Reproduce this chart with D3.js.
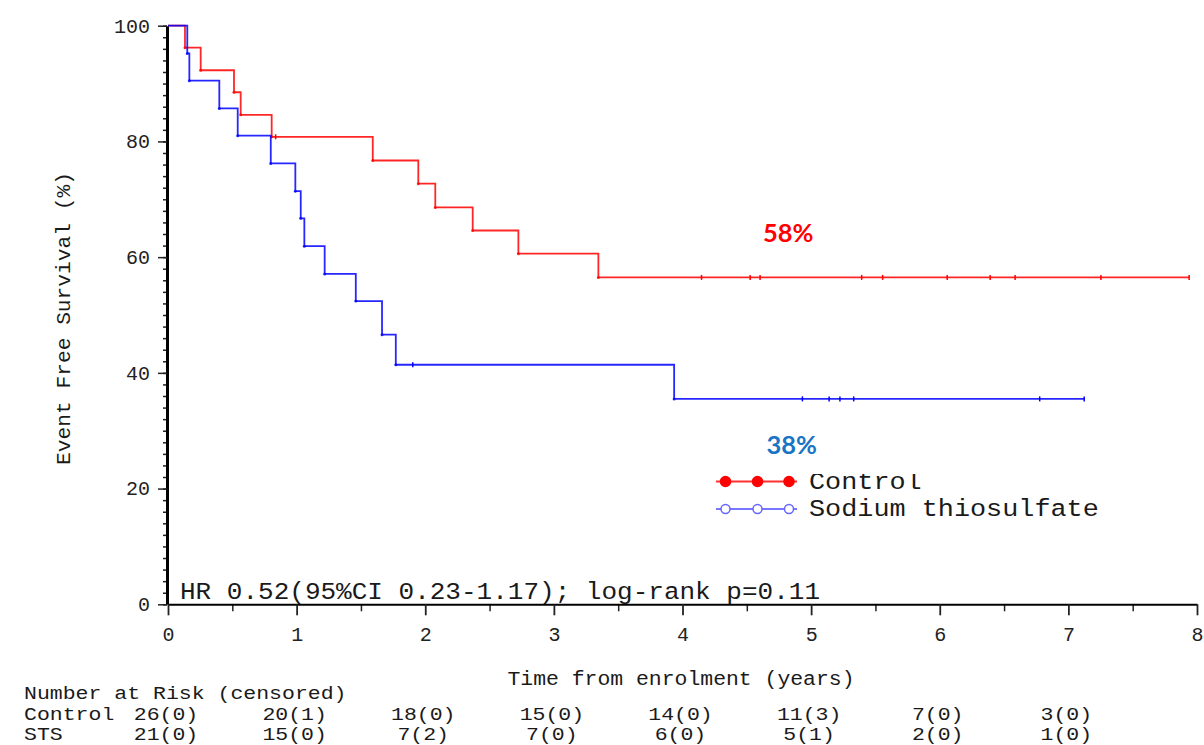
<!DOCTYPE html>
<html>
<head>
<meta charset="utf-8">
<script src="https://cdn.jsdelivr.net/npm/d3@7"></script>
<style>
  html, body { margin: 0; padding: 0; background: #fff; }
  svg { display: block; }
  .mono { font-family: "Liberation Mono", "Courier New", monospace; fill: #1a1a1a; }
</style>
</head>
<body>
<svg id="chart" width="1204" height="745"></svg>
<script>
// ---------------- data ----------------
const seriesNames = ["Control", "Sodium thiosulfate"];

// Control arm: event times (years) and survival (%) after each event
const controlTimes = [0.132, 0.254, 0.513, 0.565, 0.806, 1.592, 1.946, 2.078, 2.369, 2.724, 3.346];
const controlSurv  = [96.2, 92.3, 88.5, 84.6, 80.8, 76.7, 72.7, 68.6, 64.6, 60.6, 56.5];
const controlCensor = [0.837, 4.148, 4.526, 4.603, 5.393, 5.556, 6.058, 6.392, 6.586, 7.253, 7.939];
const controlEnd = 7.939;

// Sodium thiosulfate arm
const stsTimes = [0.150, 0.166, 0.399, 0.542, 0.799, 0.990, 1.032, 1.060, 1.218, 1.460, 1.664, 1.771, 3.935];
const stsSurv  = [95.2, 90.5, 85.7, 81.0, 76.2, 71.4, 66.7, 61.9, 57.1, 52.4, 46.6, 41.4, 35.5];
const stsCensor = [1.903, 4.932, 5.140, 5.224, 5.331, 6.777, 7.123];
const stsEnd = 7.123;

// axes
const xTicks = [0, 1, 2, 3, 4, 5, 6, 7, 8];
const xMinorTicks = [0.5, 1.5, 2.5, 3.5, 4.5, 5.5, 6.5, 7.5];
const yTicks = [0, 20, 40, 60, 80, 100];
const yMinorTicks = d3.range(0, 101, 2);

// number at risk table
const riskTimes = [0, 1, 2, 3, 4, 5, 6, 7];
const riskRowNames = ["Control", "STS"];
const controlRisk = ["26(0)", "20(1)", "18(0)", "15(0)", "14(0)", "11(3)", "7(0)", "3(0)"];
const stsRisk = ["21(0)", "15(0)", "7(2)", "7(0)", "6(0)", "5(1)", "2(0)", "1(0)"];

const statsText = "HR 0.52(95%CI 0.23-1.17); log-rank p=0.11";
const controlLabel = "58%";
const stsLabel = "38%";

// ---------------- drawing ----------------
const svg = d3.select("#chart");
const x = d3.scaleLinear().domain([0, 8]).range([168, 1197]);
const y = d3.scaleLinear().domain([0, 100]).range([604.3, 25.7]);

const RED = "#ff0000", BLUE = "#0000ff";
const CH = 12.9; // monospace advance used in the table (px per character)

function stepPoints(times, surv, end) {
  const pts = [[0, 100]];
  times.forEach((t, i) => pts.push([t, surv[i]]));
  pts.push([end, surv[surv.length - 1]]);
  return pts;
}
function survAt(times, surv, t) {
  let s = 100;
  times.forEach((tt, i) => { if (tt <= t) s = surv[i]; });
  return s;
}
const line = d3.line().x(d => x(d[0])).y(d => y(d[1])).curve(d3.curveStepAfter);

// minor ticks
svg.append("g").attr("transform", `translate(${x(0) - 1},0)`)
  .call(d3.axisLeft(y).tickValues(yMinorTicks).tickSize(4).tickFormat("").tickSizeOuter(0))
  .call(g => g.select(".domain").remove())
  .selectAll("line").attr("stroke", "#222").attr("stroke-width", 1.5);
svg.append("g").attr("transform", `translate(0,${y(0)})`)
  .call(d3.axisBottom(x).tickValues(xMinorTicks).tickSize(7).tickFormat("").tickSizeOuter(0))
  .call(g => g.select(".domain").remove())
  .selectAll("line").attr("stroke", "#222").attr("stroke-width", 1.5);

// major axes
const yAxis = svg.append("g").attr("transform", `translate(${x(0) - 1},0)`)
  .call(d3.axisLeft(y).tickValues(yTicks).tickSize(9).tickPadding(8).tickSizeOuter(0));
yAxis.select(".domain").attr("stroke", "#000").attr("stroke-width", 3);
yAxis.selectAll("line").attr("stroke", "#222").attr("stroke-width", 1.5);
yAxis.selectAll("text").attr("font-size", 20).style("font-family", '"Liberation Mono", monospace').attr("fill", "#222");

const xAxis = svg.append("g").attr("transform", `translate(0,${y(0)})`)
  .call(d3.axisBottom(x).tickValues(xTicks).tickSize(11).tickPadding(12).tickSizeOuter(0));
xAxis.select(".domain").attr("stroke", "#000").attr("stroke-width", 2);
xAxis.selectAll("line").attr("stroke", "#222").attr("stroke-width", 1.8);
xAxis.selectAll("text").attr("font-size", 20).style("font-family", '"Liberation Mono", monospace').attr("fill", "#222");

// curves
const arms = [
  {times: controlTimes, surv: controlSurv, censor: controlCensor, end: controlEnd, color: RED},
  {times: stsTimes, surv: stsSurv, censor: stsCensor, end: stsEnd, color: BLUE}
];
arms.forEach(a => {
  svg.append("path").datum(stepPoints(a.times, a.surv, a.end))
    .attr("d", line).attr("fill", "none").attr("stroke", a.color)
    .attr("stroke-width", 1.8).attr("stroke-opacity", 0.85);
  svg.append("g").selectAll("circle").data(a.times).join("circle")
    .attr("cx", t => x(t)).attr("cy", (t, i) => y(a.surv[i])).attr("r", 1.5)
    .attr("fill", a.color).attr("fill-opacity", 0.8);
  svg.append("g").selectAll("line").data(a.censor).join("line")
    .attr("x1", t => x(t)).attr("x2", t => x(t))
    .attr("y1", t => y(survAt(a.times, a.surv, t)) - 2.5)
    .attr("y2", t => y(survAt(a.times, a.surv, t)) + 2.5)
    .attr("stroke", a.color).attr("stroke-width", 1.5);
});

// stats text
svg.append("text").attr("class", "mono").attr("x", 180).attr("y", 599)
  .attr("font-size", 24.5).attr("textLength", 640).attr("lengthAdjust", "spacingAndGlyphs")
  .text(statsText);

// axis titles
svg.append("text").attr("class", "mono").attr("x", 681).attr("y", 685)
  .attr("text-anchor", "middle").attr("font-size", 20.5)
  .attr("textLength", 347).attr("lengthAdjust", "spacingAndGlyphs")
  .text("Time from enrolment (years)");
svg.append("text").attr("class", "mono")
  .attr("transform", "translate(70,318.5) rotate(-90)")
  .attr("text-anchor", "middle").attr("font-size", 20.5)
  .attr("textLength", 293).attr("lengthAdjust", "spacingAndGlyphs")
  .text("Event Free Survival (%)");

// legend
const legendRows = [
  {name: seriesNames[0], color: "#ff3030", dot: RED, filled: true, ly: 481.5, ty: 488.5},
  {name: seriesNames[1], color: "#7777ff", dot: "#6666ff", filled: false, ly: 509, ty: 515.5}
];
legendRows.forEach(r => {
  svg.append("line").attr("x1", 716).attr("x2", 797).attr("y1", r.ly).attr("y2", r.ly)
    .attr("stroke", r.color).attr("stroke-width", 1.8);
  svg.append("g").selectAll("circle").data([725.5, 757.5, 789]).join("circle")
    .attr("cx", d => d).attr("cy", r.ly).attr("r", r.filled ? 5 : 4.5)
    .attr("fill", r.filled ? r.dot : "#fff").attr("stroke", r.dot).attr("stroke-width", 1.5);
  svg.append("text").attr("class", "mono").attr("x", 809).attr("y", r.ty)
    .attr("font-size", 24.5).attr("textLength", r.name.length * 16.1).attr("lengthAdjust", "spacingAndGlyphs")
    .text(r.name);
});

// percentage labels (the 38% box overlaps the top of the legend text)
svg.append("rect").attr("x", 800).attr("y", 425).attr("width", 140).attr("height", 49).attr("fill", "#fff");
svg.append("text").attr("x", 763).attr("y", 242).attr("font-family", "Lato, 'Open Sans', sans-serif")
  .attr("font-weight", "bold").attr("font-size", 25.5).attr("fill", RED).text(controlLabel);
svg.append("text").attr("x", 766.5).attr("y", 454).attr("font-family", "Lato, 'Open Sans', sans-serif")
  .attr("font-weight", "bold").attr("font-size", 25.5).attr("fill", "#1a74c6").text(stsLabel);

// number at risk table
const head = "Number at Risk (censored)";
svg.append("text").attr("class", "mono").attr("x", 24).attr("y", 699)
  .attr("font-size", 18.5).attr("textLength", head.length * CH).attr("lengthAdjust", "spacingAndGlyphs")
  .text(head);
[controlRisk, stsRisk].forEach((row, ri) => {
  const yy = 719.5 + ri * 20.5;
  svg.append("text").attr("class", "mono").attr("x", 24).attr("y", yy)
    .attr("font-size", 18).attr("textLength", riskRowNames[ri].length * CH).attr("lengthAdjust", "spacingAndGlyphs")
    .text(riskRowNames[ri]);
  svg.append("g").selectAll("text").data(row).join("text")
    .attr("class", "mono").attr("x", (d, i) => x(riskTimes[i]) - 2).attr("y", yy)
    .attr("text-anchor", "middle").attr("font-size", 18)
    .attr("textLength", d => d.length * CH).attr("lengthAdjust", "spacingAndGlyphs")
    .text(d => d);
});
</script>
</body>
</html>
